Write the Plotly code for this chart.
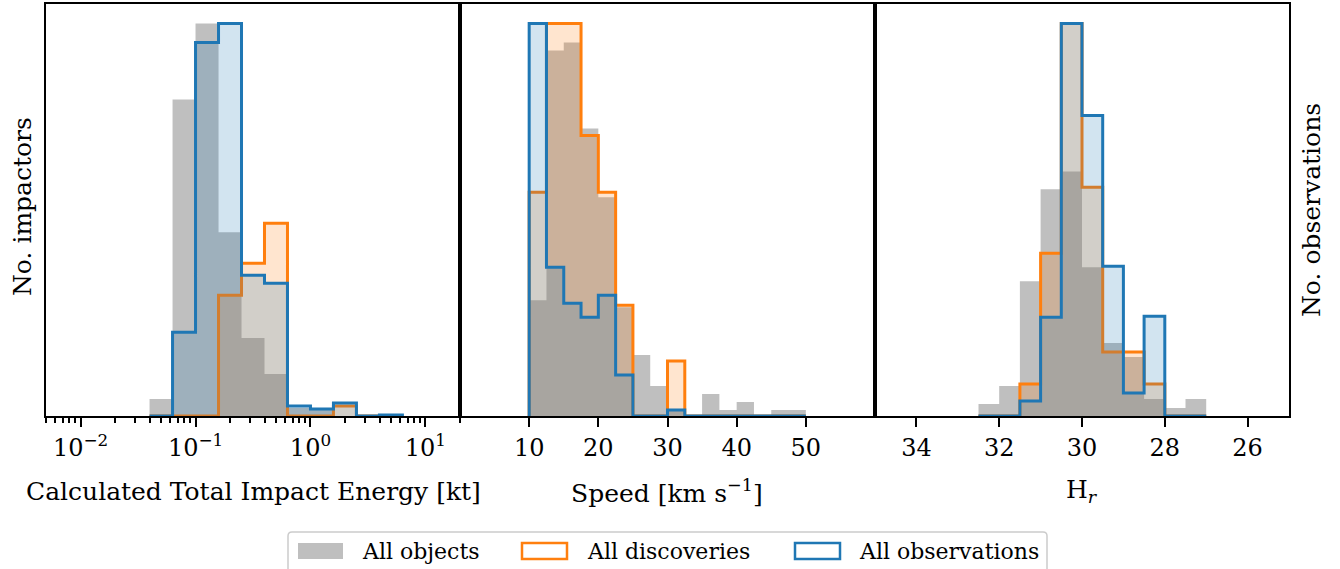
import numpy as np
import plotly.graph_objects as go

W, H = 1340, 569

# ---------------- data (relative histogram heights) ----------------
# Panel 1: Calculated total impact energy [kt], bins uniform in log10
energy_bin_edges_log10 = [-1.4, -1.2, -1.0, -0.8, -0.6, -0.4, -0.2, 0.0, 0.2, 0.4, 0.6, 0.8]
energy_all = [17, 317, 393, 184, 78, 42, 8, 6, 0, 0, 0]
energy_disc = [0, 0, 0, 121, 153, 193, 0, 0, 10, 0, 0]
energy_obs = [0, 84, 374, 393, 141, 133, 10, 7, 13, 0, 1]

# Panel 2: Speed [km/s]
speed_bin_edges = [10, 12.5, 15, 17.5, 20, 22.5, 25, 27.5, 30, 32.5, 35, 37.5, 40, 42.5, 45, 47.5, 50]
speed_all = [116, 366, 374, 288, 219, 109, 61, 30, 5, 0, 22, 6, 14, 0, 6, 6]
speed_disc = [224, 393, 393, 281, 224, 111, 0, 0, 55, 0, 0, 0, 0, 0, 0, 0]
speed_obs = [393, 149, 113, 99, 121, 41, 0, 0, 6, 0, 0, 0, 0, 0, 0, 0]

# Panel 3: absolute magnitude H_r
hmag_bin_edges = [27.0, 27.5, 28.0, 28.5, 29.0, 29.5, 30.0, 30.5, 31.0, 31.5, 32.0, 32.5]
hmag_all = [17, 8, 17, 59, 73, 149, 245, 227, 135, 30, 12]
hmag_disc = [0, 0, 32, 64, 64, 229, 393, 163, 32, 0, 0]
hmag_obs = [0, 0, 100, 23, 150, 301, 393, 99, 15, 0, 0]

energy_ticks = [0.01, 0.1, 1, 10]
energy_ticktext = ["10<sup>−2</sup>", "10<sup>−1</sup>", "10<sup>0</sup>", "10<sup>1</sup>"]
speed_ticks = [10, 20, 30, 40, 50]
hmag_ticks = [34, 32, 30, 28, 26]

series_names = ["All objects", "All discoveries", "All observations"]

# ---------------- style ----------------
FONT = "DejaVu Serif"
FS_TICK = 24
FS_LABEL = 25
FS_LEG = 22
GRAY_FILL = "rgba(128,128,128,0.5)"
ORANGE = "#ff7f0e"
ORANGE_FILL = "rgba(255,127,14,0.2)"
BLUE = "#1f77b4"
BLUE_FILL = "rgba(31,119,180,0.2)"


def px_x(p):
    return p / W


def px_y(p):
    return 1 - p / H


def step_xy(edges, counts):
    edges = list(edges)
    x = [edges[0]] + edges[:-1] + [edges[-1]]
    y = [0] + list(counts) + [0]
    return x, y


fig = go.Figure()

panels = [
    ([10 ** e for e in energy_bin_edges_log10], energy_all, energy_disc, energy_obs, "x", "y"),
    (speed_bin_edges, speed_all, speed_disc, speed_obs, "x2", "y2"),
    (hmag_bin_edges, hmag_all, hmag_disc, hmag_obs, "x3", "y3"),
]

for edges, a, d, o, xa, ya in panels:
    x, y = step_xy(edges, a)
    fig.add_trace(go.Scatter(x=x, y=y, mode="lines", line=dict(width=0, shape="hv"),
                             fill="tozeroy", fillcolor=GRAY_FILL, name=series_names[0],
                             showlegend=False, xaxis=xa, yaxis=ya, hoverinfo="skip"))
    x, y = step_xy(edges, d)
    fig.add_trace(go.Scatter(x=x, y=y, mode="lines", line=dict(width=3, color=ORANGE, shape="hv"),
                             fill="tozeroy", fillcolor=ORANGE_FILL, name=series_names[1],
                             showlegend=False, xaxis=xa, yaxis=ya, hoverinfo="skip"))
    x, y = step_xy(edges, o)
    fig.add_trace(go.Scatter(x=x, y=y, mode="lines", line=dict(width=3, color=BLUE, shape="hv"),
                             fill="tozeroy", fillcolor=BLUE_FILL, name=series_names[2],
                             showlegend=False, xaxis=xa, yaxis=ya, hoverinfo="skip"))

y_dom = [px_y(416), px_y(4)]
x_doms = [[px_x(46), px_x(460)], [px_x(460), px_x(875)], [px_x(875), px_x(1289)]]

common_x = dict(showline=True, linewidth=2, linecolor="black", mirror=True, showgrid=False,
                zeroline=False, ticks="outside", ticklen=9, tickwidth=2, tickcolor="black",
                tickfont=dict(family=FONT, size=FS_TICK, color="black"), ticklabelstandoff=0)
common_y = dict(showline=True, linewidth=2, linecolor="black", mirror=True, showgrid=False,
                zeroline=False, ticks="", showticklabels=False, domain=y_dom)

minor_vals = [k * 10.0 ** e for e in range(-3, 2) for k in range(2, 10)
              if 0.005 <= k * 10.0 ** e <= 20]

fig.update_layout(
    xaxis=dict(common_x, type="log", domain=x_doms[0], anchor="y",
               range=[np.log10(0.005), np.log10(20)],
               tickvals=energy_ticks, ticktext=energy_ticktext,
               minor=dict(tickvals=minor_vals, ticks="outside", ticklen=5, tickwidth=1.5,
                          tickcolor="black", showgrid=False)),
    xaxis2=dict(common_x, domain=x_doms[1], anchor="y2", range=[0, 60], tickvals=speed_ticks),
    xaxis3=dict(common_x, domain=x_doms[2], anchor="y3", range=[35, 25], tickvals=hmag_ticks),
    yaxis=dict(common_y, anchor="x", range=[0, 1.05 * max(energy_all + energy_disc + energy_obs)]),
    yaxis2=dict(common_y, anchor="x2", range=[0, 1.05 * max(speed_all + speed_disc + speed_obs)]),
    yaxis3=dict(common_y, anchor="x3", range=[0, 1.05 * max(hmag_all + hmag_disc + hmag_obs)]),
    width=W, height=H,
    margin=dict(l=0, r=0, t=0, b=0),
    plot_bgcolor="white", paper_bgcolor="white",
    font=dict(family=FONT, size=FS_TICK, color="black"),
    showlegend=False,
)

anns = []


def txt(text, x, y, size, xanchor="center", angle=0):
    anns.append(dict(text=text, x=px_x(x), y=px_y(y), xref="paper", yref="paper",
                     xanchor=xanchor, yanchor="middle", showarrow=False, textangle=angle,
                     font=dict(family=FONT, size=size, color="black")))


txt("Calculated Total Impact Energy [kt]", 253, 491, FS_LABEL)
txt("Speed [km s<sup>−1</sup>]", 667, 491, FS_LABEL)
txt("H<sub><i>r</i></sub>", 1082, 491, FS_LABEL)
txt("No. impactors", 23, 207, FS_LABEL, angle=-90)
txt("No. observations", 1311, 210, FS_LABEL, angle=-90)

# legend (drawn manually below the panels)
shapes = []
x0, x1, y0, y1, r = 288, 1047, 532, 590, 4
path = (f"M {px_x(x0 + r)},{px_y(y0)} L {px_x(x1 - r)},{px_y(y0)} "
        f"Q {px_x(x1)},{px_y(y0)} {px_x(x1)},{px_y(y0 + r)} L {px_x(x1)},{px_y(y1)} "
        f"L {px_x(x0)},{px_y(y1)} L {px_x(x0)},{px_y(y0 + r)} "
        f"Q {px_x(x0)},{px_y(y0)} {px_x(x0 + r)},{px_y(y0)} Z")
shapes.append(dict(type="path", path=path, xref="paper", yref="paper",
                   line=dict(color="#cccccc", width=1.5), fillcolor="white", layer="above"))
sym_x = [298, 522, 795]
txt_x = [360, 585, 857]
sym_styles = [dict(fillcolor=GRAY_FILL, line=dict(width=0)),
              dict(fillcolor="white", line=dict(color=ORANGE, width=2.5)),
              dict(fillcolor="white", line=dict(color=BLUE, width=2.5))]
for sx, st in zip(sym_x, sym_styles):
    shapes.append(dict(type="rect", xref="paper", yref="paper", x0=px_x(sx), x1=px_x(sx + 45),
                       y0=px_y(559), y1=px_y(543), layer="above", **st))
for tx, name in zip(txt_x, series_names):
    txt(name, tx, 551, FS_LEG, xanchor="left")

fig.update_layout(annotations=anns, shapes=shapes)
fig.write_html(
    "out.html",
    config={"displayModeBar": False},
    post_script="document.body.style.margin='0';document.body.style.padding='0';"
                "document.body.style.overflow='hidden';",
)
